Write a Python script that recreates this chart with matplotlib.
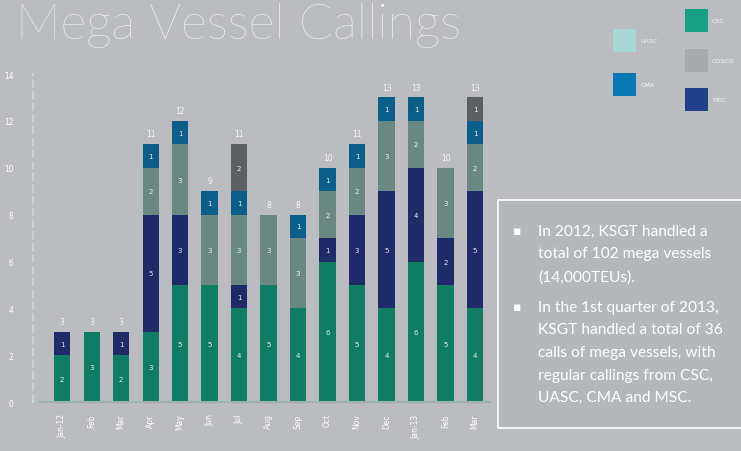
import numpy as np
import matplotlib
matplotlib.use("Agg")
import matplotlib.pyplot as plt
from matplotlib.patches import Rectangle

# monthly mega vessel calls per line (Jan-12 .. Mar-13)
months = ["Jan-12", "Feb", "Mar", "Apr", "May", "Jun", "Jul", "Aug",
          "Sep", "Oct", "Nov", "Dec", "Jan-13", "Feb", "Mar"]
csc = [2, 3, 2, 3, 5, 5, 4, 5, 4, 6, 5, 4, 6, 5, 4]
msc = [1, 0, 1, 5, 3, 0, 1, 0, 0, 1, 3, 5, 4, 2, 5]
cosco = [0, 0, 0, 2, 3, 3, 3, 3, 3, 2, 2, 3, 2, 3, 2]
cma = [0, 0, 0, 1, 1, 1, 1, 0, 1, 1, 1, 1, 1, 0, 1]
uasc = [0, 0, 0, 0, 0, 0, 2, 0, 0, 0, 0, 0, 0, 0, 1]
yticks = [0, 2, 4, 6, 8, 10, 12, 14]

notes = [
    ["In 2012, KSGT handled a", "total of 102 mega vessels", "(14,000TEUs)."],
    ["In the 1st quarter of 2013,", "KSGT handled a total of 36",
     "calls of mega vessels, with", "regular callings from CSC,",
     "UASC, CMA and MSC."],
]

bg = "#babcbf"
# name, values, bar colour, legend swatch colour
series = [
    ("CSC", csc, "#0f7d63", "#17a184"),
    ("MSC", msc, "#1f2b68", "#223f8a"),
    ("COSCO", cosco, "#6a8882", "#a7abac"),
    ("CMA", cma, "#0b5d8a", "#0b78b6"),
    ("UASC", uasc, "#5c6064", "#a8d8d3"),
]

fig = plt.figure(figsize=(7.41, 4.52), dpi=100, facecolor=bg)
ax = fig.add_axes([0.054, 0.108, 0.607, 0.726])
ax.set_facecolor(bg)

x = np.arange(len(months))
bottom = np.zeros(len(months))
for name, vals, col, _ in series:
    vals = np.array(vals)
    ax.bar(x, vals, bottom=bottom, width=0.55, color=col, edgecolor="none")
    for xi, b, v in zip(x, bottom, vals):
        if v > 0:
            ax.text(xi, b + v / 2, str(v), ha="center", va="center",
                    color="white", fontsize=5, alpha=0.9)
    bottom += vals

for xi, tot in zip(x, bottom):
    ax.text(xi, tot + 0.25, str(int(tot)), ha="center", va="bottom",
            color="white", fontsize=5.5, alpha=0.85)

ax.set_xlim(-0.75, 14.5)
ax.set_ylim(0, 14)
ax.set_yticks(yticks)
ax.set_xticks(x)
ax.set_xticklabels(months, rotation=90)
ax.tick_params(axis="both", length=0, colors="white", labelsize=5.5)
ax.tick_params(axis="y", pad=14)
ax.tick_params(axis="x", pad=8)
for s in ["top", "right"]:
    ax.spines[s].set_visible(False)
ax.spines["left"].set_position(("outward", 5))
ax.spines["left"].set_linestyle((0, (4, 3)))
ax.spines["left"].set_color("#d2d6d6")
ax.spines["left"].set_linewidth(1.2)
ax.spines["bottom"].set_color("#9db0ac")
ax.spines["bottom"].set_linewidth(1.5)

# title
fig.text(0.022, 0.913, "Mega Vessel Callings", color="white", fontsize=36,
         family="Lato", weight="light", va="baseline")

# legend swatches drawn by hand: two columns like the original
sw, sh = 0.031, 0.051
swatch = {n: c for n, _, _, c in series}
legend_pos = {"CSC": (0.924, 0.927), "COSCO": (0.924, 0.838), "MSC": (0.924, 0.752),
              "UASC": (0.827, 0.883), "CMA": (0.827, 0.785)}
for n, (lx, ly) in legend_pos.items():
    fig.add_artist(Rectangle((lx, ly), sw, sh, transform=fig.transFigure,
                             facecolor=swatch[n], edgecolor="none"))
    fig.text(lx + sw + 0.006, ly + sh / 2, n, color="white", fontsize=4.6,
             va="center", alpha=0.8)

# note box
fig.add_artist(Rectangle((0.672, 0.05), 0.34, 0.505, transform=fig.transFigure,
                         facecolor="#b5b8bb", edgecolor="white", linewidth=1.2))
y = 0.487
for block in notes:
    fig.text(0.692, y, "\u25aa", color="white", fontsize=9, va="center")
    for line in block:
        fig.text(0.726, y, line, color="white", fontsize=11.2, va="center",
                 family="Lato")
        y -= 0.05
    y -= 0.018

fig.savefig("out.png", dpi=100, facecolor=bg)
